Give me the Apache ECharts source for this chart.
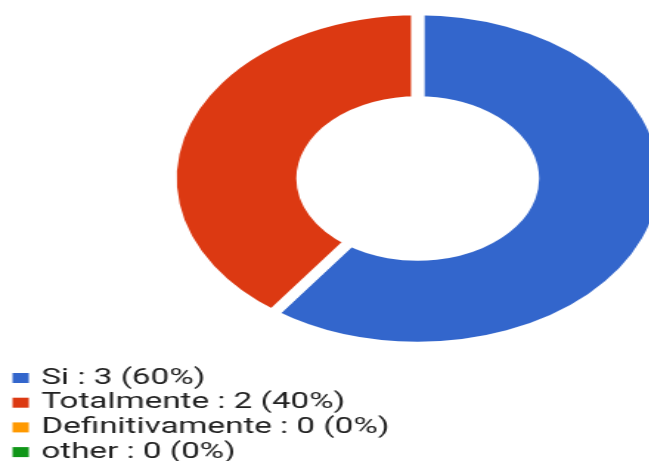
<!DOCTYPE html>
<html lang="en">
<head>
	<meta charset="UTF-8">
	<title>donut</title>
	<script src="https://cdn.jsdelivr.net/npm/echarts@6/dist/echarts.min.js"></script>
	<style>
		html,body{margin:0;padding:0;width:649px;height:461px;overflow:hidden;background:#fff;}
		/* the reference is stretched sideways, so draw narrow and widen it */
		.chart{width:440px;height:490px;transform:scaleX(1.476);transform-origin:0 0;}
	</style>
</head>
<body>
	<div class="chart" id="chart"></div>
<script>
	var categories = ['Si', 'Totalmente', 'Definitivamente', 'other'];
	var counts = [3, 2, 0, 0];
	var colors = ['#3366cc', '#dc3912', '#ff9900', '#109618'];

	var total = 0;
	for (var i = 0; i < counts.length; i++) total += counts[i];

	var pieData = [], labels = {};
	for (var i = 0; i < categories.length; i++) {
		pieData.push({name: categories[i], value: counts[i], itemStyle: {color: colors[i]}});
		labels[categories[i]] = categories[i] + ' : ' + counts[i] + ' (' + Math.round(counts[i] / total * 100) + '%)';
	}

	var myChart = echarts.init(document.getElementById('chart'));
	myChart.setOption({
		animation: false,
		color: colors,
		legend: {
			orient: 'vertical',
			left: 8.5,
			top: 366.5,
			padding: 0,
			icon: 'rect',
			itemWidth: 11,
			itemHeight: 10,
			itemGap: 1.7,
			selectedMode: false,
			itemStyle: {borderWidth: 0},
			data: categories,
			formatter: function (name) { return labels[name]; },
			textStyle: {
				fontFamily: 'Roboto',
				fontSize: 22.5,
				lineHeight: 22,
				color: '#222',
				padding: [0, 0, 0, 3.5]
			}
		},
		series: [{
			type: 'pie',
			center: [283, 178.5],
			radius: [78, 167.5],
			startAngle: 90,
			clockwise: true,
			avoidLabelOverlap: false,
			stillShowZeroSum: false,
			label: {show: false},
			labelLine: {show: false},
			emphasis: {disabled: true},
			itemStyle: {borderColor: '#fff', borderWidth: 8.5},
			data: pieData
		}]
	});
</script>
</body>
</html>
